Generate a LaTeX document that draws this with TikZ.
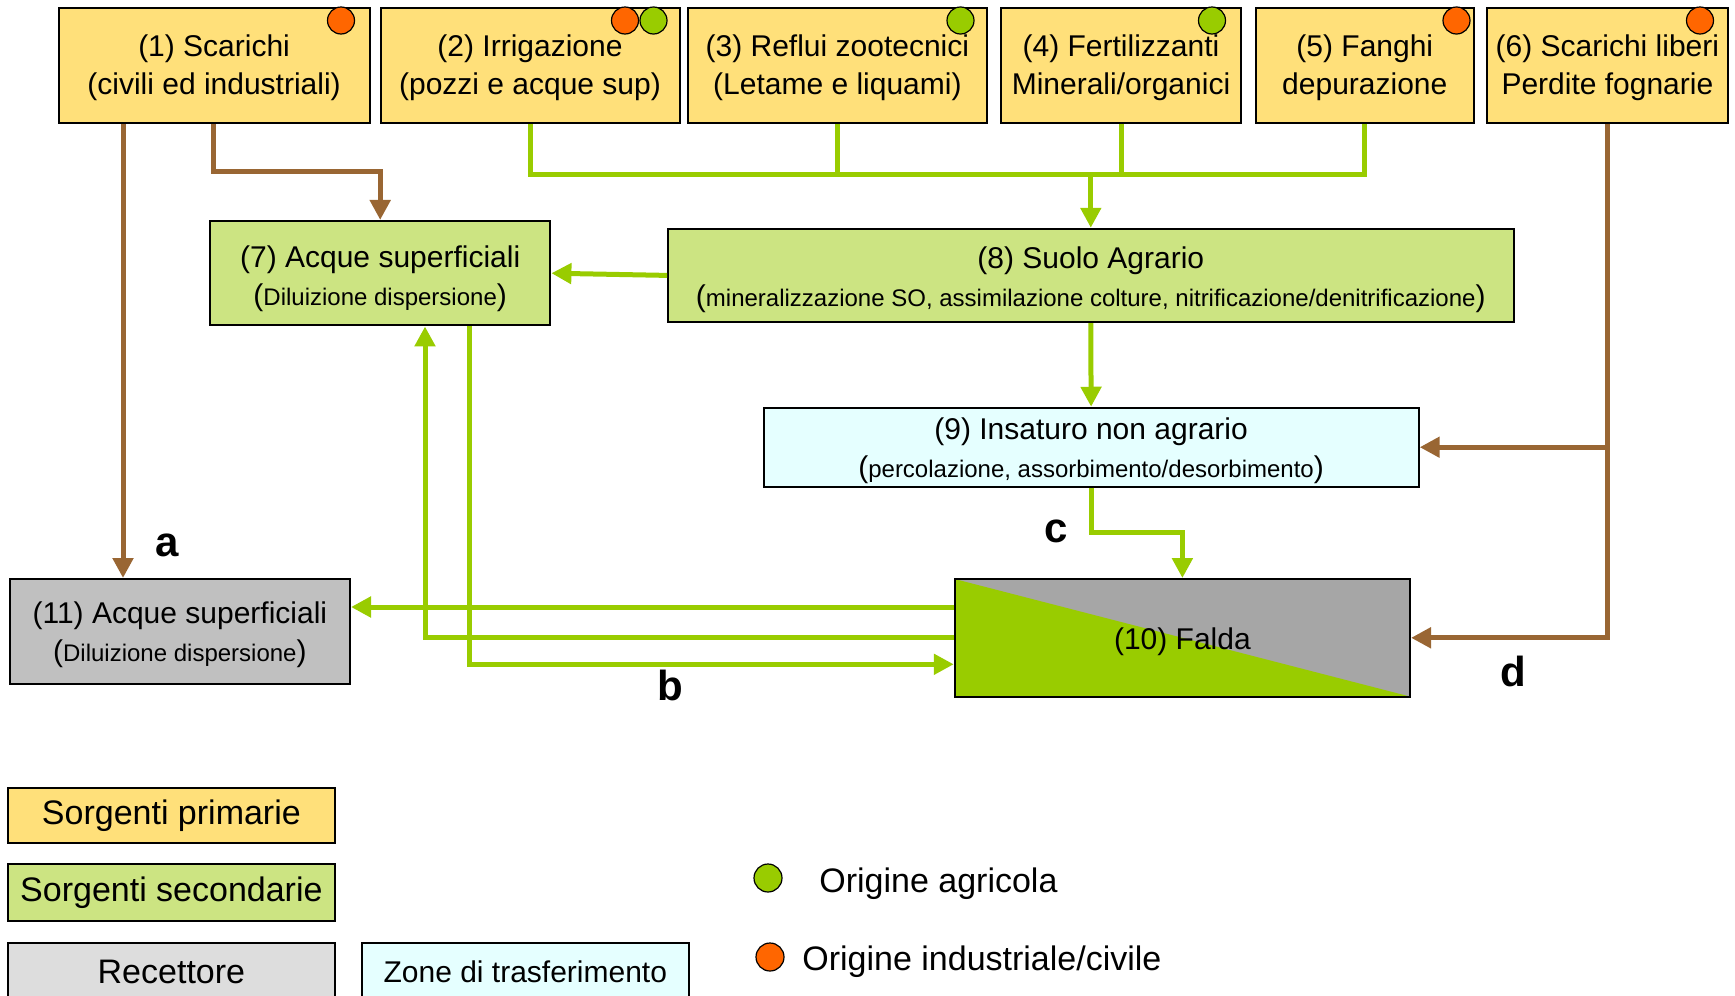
\documentclass[tikz,border=0pt]{standalone}
\usepackage{fontspec}
\setmainfont{Liberation Sans}
\usetikzlibrary{arrows.meta}
\definecolor{primario}{RGB}{255,224,122}
\definecolor{secondario}{RGB}{204,228,130}
\definecolor{trasfer}{RGB}{229,255,255}
\definecolor{recett}{RGB}{192,192,192}
\definecolor{recettleg}{RGB}{221,221,221}
\definecolor{verde}{RGB}{153,204,0}
\definecolor{grigio}{RGB}{166,166,166}
\definecolor{marrone}{RGB}{153,102,51}
\definecolor{arancio}{RGB}{255,102,0}
\newcommand{\piccolo}[1]{{\fontsize{12}{14}\selectfont #1}}
\newcommand{\spinta}[1]{\rule{0pt}{#1pt}}

\begin{document}
\begin{tikzpicture}[x=0.5pt,y=-0.5pt,inner sep=0pt,
  box/.style={draw=black,line width=1pt,align=center,font=\fontsize{15}{19}\selectfont},
  fonte/.style={box,fill=primario,minimum height=115.5*\u},
  seconda/.style={box,fill=secondario},
  trasf/.style={box,fill=trasfer},
  recet/.style={box,fill=recett},
  falda/.style={box,fill=grigio,path picture={
    \fill[verde] (path picture bounding box.north west) -- (path picture bounding box.south east)
      -- (path picture bounding box.south west) -- cycle;}},
  leg/.style={draw=black,line width=1pt,font=\fontsize{17}{20}\selectfont,minimum width=327*\u,minimum height=55*\u},
  dot/.style={circle,draw=black,line width=0.6pt,minimum size=27*\u},
  agri/.style={dot,fill=verde},
  indu/.style={dot,fill=arancio},
  flussoM/.style={draw=marrone,line width=2.5pt},
  flussoV/.style={draw=verde,line width=2.5pt},
  punta/.style={-{Triangle[length=10pt,width=10pt]}},
  lettera/.style={font=\bfseries\fontsize{21}{21}\selectfont}]
\def\u{0.5pt}
\useasboundingbox (0,0) rectangle (1735,996);
\clip (0,0) rectangle (1735,996);

% sorgenti primarie
\node[fonte,minimum width=311*\u] (s1) at (214.1,65.3) {\spinta{13.4}(1) Scarichi\\(civili ed industriali)};
\node[fonte,minimum width=299*\u] (s2) at (530,65.3) {\spinta{13.4}(2) Irrigazione\\(pozzi e acque sup)};
\node[fonte,minimum width=299.3*\u] (s3) at (837.4,65.3) {\spinta{13.4}(3) Reflui zootecnici\\(Letame e liquami)};
\node[fonte,minimum width=240.5*\u] (s4) at (1121,65.3) {\spinta{13.4}(4) Fertilizzanti\\Minerali/organici};
\node[fonte,minimum width=218*\u] (s5) at (1364.8,65.3) {\spinta{13.4}(5) Fanghi\\depurazione};
\node[fonte,minimum width=241.2*\u] (s6) at (1607.4,65.3) {\spinta{13.4}(6) Scarichi liberi\\Perdite fognarie};

\node[indu] (o1) at (341,20.5) {};
\node[indu] (o2) at (625,20.5) {};
\node[agri] (g2) at (653.5,20.5) {};
\node[agri] (g3) at (960.5,20.5) {};
\node[agri] (g4) at (1212,20.5) {};
\node[indu] (o5) at (1456.5,20.5) {};
\node[indu] (o6) at (1700,20.5) {};

% sorgenti secondarie, trasferimento, recettori
\node[seconda,minimum width=340.4*\u,minimum height=104.5*\u] (b7) at (380.2,273.2)
  {\spinta{16.7}(7) Acque superficiali\\(\piccolo{Diluizione dispersione})};
\node[seconda,minimum width=845.5*\u,minimum height=93.3*\u] (b8) at (1090.8,275.4)
  {\spinta{15.3}(8) Suolo Agrario\\(\piccolo{mineralizzazione SO, assimilazione colture, nitrificazione/denitrificazione})};
\node[trasf,minimum width=655.2*\u,minimum height=78.9*\u] (b9) at (1091.1,447.2)
  {\spinta{14.7}(9) Insaturo non agrario\\(\piccolo{percolazione, assorbimento/desorbimento})};
\node[falda,minimum width=455.3*\u,minimum height=117.5*\u] (b10) at (1182.4,637.8) {\spinta{15.2}(10) Falda};
\node[recet,minimum width=340.2*\u,minimum height=105*\u] (b11) at (179.9,631.5)
  {\spinta{14.5}(11) Acque superficiali\\(\piccolo{Diluizione dispersione})};

% flussi civili/industriali
\coordinate (ka) at (123,0);
\coordinate (kb) at (213,171);
\draw[flussoM,punta] (s1.south -| ka) -- (b11.north -| ka);
\draw[flussoM,punta] (s1.south -| kb) -- (kb) -| (b7.north);
\draw[flussoM,punta] (s6.south) |- (b9.east);
\draw[flussoM,punta] (s6.south) |- (b10.east);

% flussi agricoli
\coordinate (ky) at (0,174);
\draw[flussoV] (s2.south) |- (s5.south |- ky) -- (s5.south);
\draw[flussoV] (s3.south) -- (s3.south |- ky);
\draw[flussoV] (s4.south) -- (s4.south |- ky);
\draw[flussoV,punta] (b8.north |- ky) -- (b8.north);
\draw[flussoV,punta] (b8.west) -- (b7.east);
\draw[flussoV,punta] (b8.south) -- (b9.north);
\coordinate (kc) at (0,532);
\draw[flussoV,punta] (b9.south) |- (b10.north |- kc) -- (b10.north);
\coordinate (kp) at (0,607);
\draw[flussoV,punta] (b10.west |- kp) -- (b11.east |- kp);
\coordinate (kr) at (425,0);
\draw[flussoV,punta] (b10.west) -| (kr |- b7.south);
\coordinate (ks) at (469.6,664.3);
\draw[flussoV,punta] (b7.south -| ks) |- (b10.west |- ks);

\node[lettera] (la) at (167,545) {a};
\node[lettera] (lb) at (670,685) {b};
\node[lettera] (lc) at (1056,531) {c};
\node[lettera] (ld) at (1513,671) {d};

% legenda
\node[leg,fill=primario] (lp) at (171.4,815.5) {Sorgenti primarie};
\node[leg,fill=secondario,minimum height=57*\u] (ls) at (171.4,892.5) {Sorgenti secondarie};
\node[leg,fill=recettleg,minimum height=57*\u] (lr) at (171.4,971.5) {Recettore};
\node[leg,fill=trasfer,minimum width=326.6*\u,minimum height=57*\u,font=\fontsize{15}{18}\selectfont] (lz) at (525.3,971.5) {Zone di trasferimento};
\node[agri,minimum size=28*\u] (lg) at (768,878) {};
\node[indu,minimum size=28*\u] (lo) at (770,957) {};
\node[font=\fontsize{17}{20}\selectfont,anchor=west] (tg) at (819,884) {Origine agricola};
\node[font=\fontsize{17}{20}\selectfont,anchor=west] (to) at (802,962) {Origine industriale/civile};
\end{tikzpicture}
\end{document}
